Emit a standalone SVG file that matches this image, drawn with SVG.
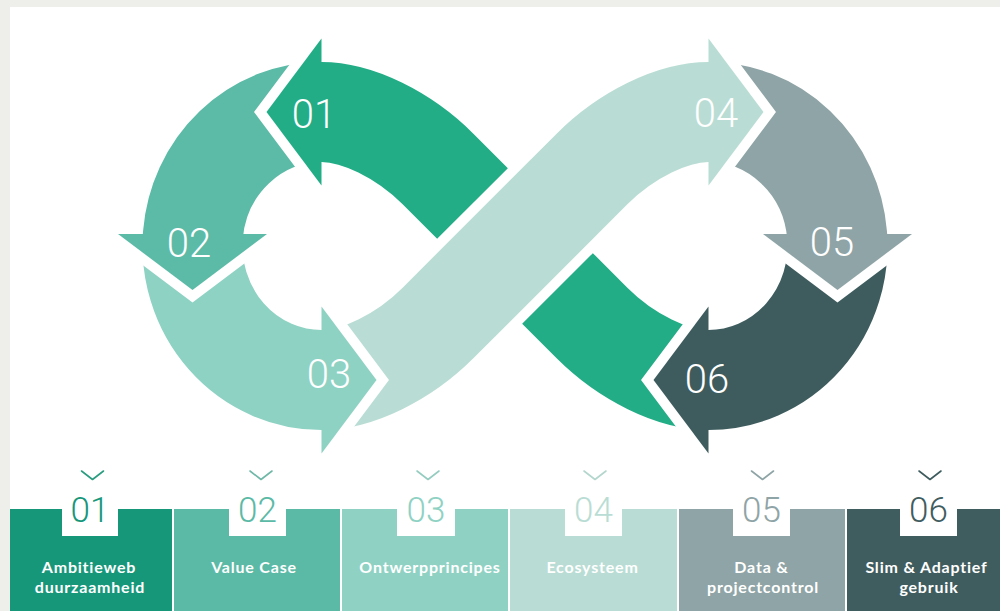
<svg xmlns="http://www.w3.org/2000/svg" width="1000" height="611" viewBox="0 0 1000 611">
  <style>
    .band { fill: none; stroke-width: 100; stroke-linecap: butt; stroke-linejoin: round; }
    .head { stroke: #ffffff; stroke-width: 20; stroke-linejoin: miter; paint-order: stroke; }
    .loopnum { font-family: Roboto, "Liberation Sans", sans-serif; font-weight: 300; font-size: 40px; fill: #ffffff; text-anchor: middle; }
    .tabnum { font-family: Roboto, "Liberation Sans", sans-serif; font-weight: 300; font-size: 35px; text-anchor: middle; }
    .label { font-family: Lato, "Open Sans", "Liberation Sans", sans-serif; font-weight: 700; font-size: 16px; letter-spacing: 0.8px; fill: #ffffff; text-anchor: middle; }
    .chev { fill: none; stroke-width: 1.6; stroke-linecap: round; stroke-linejoin: round; }
  </style>

  <!-- frame -->
  <rect x="0" y="0" width="1000" height="611" fill="#ffffff"/>
  <rect x="0" y="0" width="1000" height="7" fill="#eeeeea"/>
  <rect x="0" y="0" width="10" height="611" fill="#eeeeea"/>

  <!-- infinity loop; each arrowhead carries a white outline that notches the following segment -->
  <g id="loop">
    <g id="step-01-tail">
      <path class="band" stroke="#22ad86" d="M557.5 288.5 L592 323 C626.2 357.2 672.8 380 708.5 380"/>
    </g>
    <g id="step-06">
      <polygon class="head" fill="#3e5c5e" points="708.5,306.5 708.5,453.5 653.5,380"/>
      <path class="band" stroke="#3e5c5e" d="M837 234.3 A129 134 0 0 1 708.5 380 L706.5 380"/>
      <text class="loopnum" x="707" y="393">06</text>
    </g>
    <g id="step-05">
      <polygon class="head" fill="#8fa4a6" points="763,234 912,234 837.5,290"/>
      <path class="band" stroke="#8fa4a6" d="M708.5 112 A129 134 0 0 1 837 234.3 L837.7 242"/>
      <text class="loopnum" x="832" y="256">05</text>
    </g>
    <g id="step-04">
      <polygon class="head" fill="#b9ddd4" points="708.5,38.5 708.5,185.5 763.5,112"/>
      <path class="band" stroke="#b9ddd4" d="M321.5 380 C357.2 380 403.8 357.2 438 323 L592 169 C626.2 134.8 672.8 112 708.5 112 L710.5 112"/>
      <text class="loopnum" x="716" y="127">04</text>
    </g>
    <g id="step-03">
      <polygon class="head" fill="#8ed2c3" points="321.5,306.5 321.5,453.5 376.5,380"/>
      <path class="band" stroke="#8ed2c3" d="M193 234.3 A129 134 0 0 0 321.5 380 L323.5 380"/>
      <text class="loopnum" x="329" y="388">03</text>
    </g>
    <g id="step-02">
      <polygon class="head" fill="#5bbba7" points="118,234 267,234 192.5,290"/>
      <path class="band" stroke="#5bbba7" d="M321.5 112 A129 134 0 0 0 193 234.3 L192.3 242"/>
      <text class="loopnum" x="189" y="257">02</text>
    </g>
    <g id="step-01">
      <polygon class="head" fill="#22ad86" points="321.5,38.5 321.5,185.5 266.5,112"/>
      <path class="band" stroke="#22ad86" d="M472.5 203.5 L438 169 C403.8 134.8 357.2 112 321.5 112 L319.5 112"/>
      <text class="loopnum" x="314" y="128">01</text>
    </g>
  </g>

  <!-- chevrons above the legend -->
  <g id="chevrons">
    <polyline class="chev" stroke="#2a9d80" points="81.5,471 92.5,479.5 103.5,471"/>
    <polyline class="chev" stroke="#6fb8a8" points="250,471 261,479.5 272,471"/>
    <polyline class="chev" stroke="#95ccc0" points="417,471 428,479.5 439,471"/>
    <polyline class="chev" stroke="#b3d6cd" points="584,471 595,479.5 606,471"/>
    <polyline class="chev" stroke="#8fa4a6" points="751.5,471 762.5,479.5 773.5,471"/>
    <polyline class="chev" stroke="#3e5c5e" points="919,471 930,479.5 941,471"/>
  </g>

  <!-- legend boxes -->
  <g id="box-01">
    <rect x="10" y="509" width="162" height="102" fill="#17977a"/>
    <rect x="62" y="505" width="56" height="31" fill="#ffffff"/>
    <text class="tabnum" x="90" y="522" fill="#17977a">01</text>
    <text class="label" x="89" y="572.5">Ambitieweb</text>
    <text class="label" x="90" y="592.5">duurzaamheid</text>
  </g>
  <g id="box-02">
    <rect x="174" y="509" width="166" height="102" fill="#5bbaa6"/>
    <rect x="229" y="505" width="57" height="31" fill="#ffffff"/>
    <text class="tabnum" x="257.5" y="522" fill="#5bbaa6">02</text>
    <text class="label" x="254" y="572.5">Value Case</text>
  </g>
  <g id="box-03">
    <rect x="342" y="509" width="166" height="102" fill="#8fd2c4"/>
    <rect x="397" y="505" width="58" height="31" fill="#ffffff"/>
    <text class="tabnum" x="426" y="522" fill="#8fd2c4">03</text>
    <text class="label" x="430" y="572.5">Ontwerpprincipes</text>
  </g>
  <g id="box-04">
    <rect x="510" y="509" width="167" height="102" fill="#b9ddd4"/>
    <rect x="565" y="505" width="57" height="31" fill="#ffffff"/>
    <text class="tabnum" x="593.5" y="522" fill="#b9ddd4">04</text>
    <text class="label" x="592.5" y="572.5">Ecosysteem</text>
  </g>
  <g id="box-05">
    <rect x="679" y="509" width="166" height="102" fill="#8fa4a6"/>
    <rect x="733" y="505" width="57" height="31" fill="#ffffff"/>
    <text class="tabnum" x="761.5" y="522" fill="#8fa4a6">05</text>
    <text class="label" x="761.5" y="572.5">Data &amp;</text>
    <text class="label" x="763" y="592.5">projectcontrol</text>
  </g>
  <g id="box-06">
    <rect x="847" y="509" width="153" height="102" fill="#3f5d5f"/>
    <rect x="900" y="505" width="57" height="31" fill="#ffffff"/>
    <text class="tabnum" x="928.5" y="522" fill="#3f5d5f">06</text>
    <text class="label" x="926.5" y="572.5">Slim &amp; Adaptief</text>
    <text class="label" x="929" y="592.5">gebruik</text>
  </g>
</svg>
